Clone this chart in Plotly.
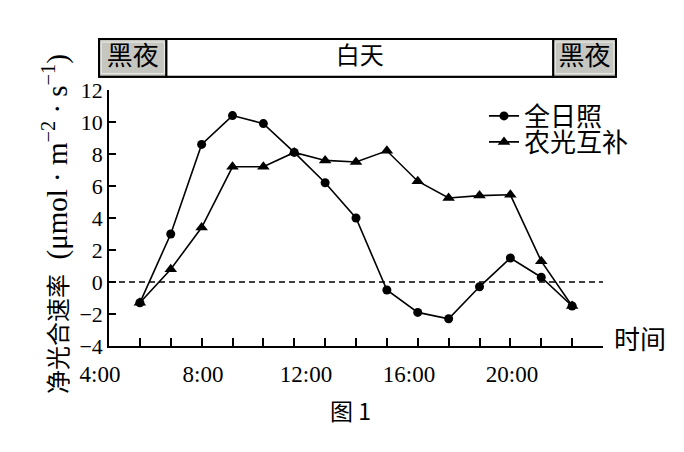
import plotly.graph_objects as go

# hourly readings, 5:00 - 19:00
hours = [5, 6, 7, 8, 9, 10, 11, 12, 13, 14, 15, 16, 17, 18, 19]
full_sun = [-1.3, 3.0, 8.6, 10.4, 9.9, 8.1, 6.2, 4.0, -0.5, -1.9, -2.3, -0.3, 1.5, 0.3, -1.5]
agri_pv = [-1.3, 0.8, 3.4, 7.2, 7.2, 8.1, 7.6, 7.5, 8.2, 6.3, 5.25, 5.4, 5.45, 1.3, -1.5]

zero_x = [4, 20]
zero_y = [0, 0]

time_vals = [4, 8, 12, 16, 20]
time_text = ["4:00", "8:00", "12:00", "16:00", "20:00"]

# light/dark strip above the chart (hours)
period_edges = [3.68, 5.86, 18.39, 20.42]
period_names = ["黑夜", "白天", "黑夜"]

serif = "Liberation Serif, Times New Roman, serif"
cjk = "Noto Sans CJK SC, sans-serif"

# page has an 8px body margin, plot area spans px 95..603 x 90..346 of the picture
L, R, T, B = 95, 603, 90, 346
X0 = 109  # where 4:00 sits
def fx(px):
    return (px - L) / (R - L)
def fy(py):
    return (B - py) / (B - T)
def hour_x(h):
    return fx(X0) + (h - 4) / 16 * (1 - fx(X0))

fig = go.Figure()

fig.add_trace(go.Scatter(
    x=zero_x, y=zero_y, mode="lines", showlegend=False, hoverinfo="skip",
    line=dict(color="black", width=1.4, dash="6px,4px")))

fig.add_trace(go.Scatter(
    x=hours, y=full_sun, mode="lines+markers", name="全日照", legend="legend",
    line=dict(color="black", width=1.6),
    marker=dict(symbol="circle", size=9, color="black")))

fig.add_trace(go.Scatter(
    x=hours, y=agri_pv, mode="lines+markers", name="农光互补", legend="legend2",
    line=dict(color="black", width=1.6),
    marker=dict(symbol="triangle-up", size=11, color="black")))

# invisible trace so the label axis gets drawn
fig.add_trace(go.Scatter(x=time_vals, y=[None] * len(time_vals), xaxis="x2",
                         showlegend=False, hoverinfo="skip"))

# top strip
y0, y1 = fy(76.7), fy(39)
fig.add_shape(type="rect", xref="paper", yref="paper",
              x0=hour_x(period_edges[0]), x1=hour_x(period_edges[-1]), y0=y0, y1=y1,
              line=dict(color="black", width=2), fillcolor="white", layer="above")
for i, name in enumerate(period_names):
    a, b = hour_x(period_edges[i]), hour_x(period_edges[i + 1])
    night = name == "黑夜"
    fig.add_shape(type="rect", xref="paper", yref="paper", x0=a, x1=b, y0=y0, y1=y1,
                  line=dict(color="black", width=2),
                  fillcolor="#c6c6c1" if night else "white", layer="above",
                  label=dict(text=name, textposition="middle center",
                             font=dict(family=cjk, size=26 if night else 24, color="black")))
    if night:
        fig.add_shape(type="rect", xref="paper", yref="paper", x0=a + 0.004, x1=b - 0.004,
                      y0=y0 + 0.012, y1=y1 - 0.012,
                      line=dict(color="#ececea", width=1), fillcolor="rgba(0,0,0,0)", layer="above")

fig.add_annotation(
    x=fx(55), y=fy(224), xref="paper", yref="paper", xanchor="center", yanchor="middle",
    textangle=-90, showarrow=False,
    text="<span style='font-family:Noto Sans CJK SC;font-size:24px'>净光合速率</span>"
         "  (μmol · m<sup>−2</sup> · s<sup>−1</sup>)",
    font=dict(family=serif, size=29, color="black"))

fig.add_annotation(x=fx(612), y=fy(337), xref="paper", yref="paper",
                   xanchor="left", yanchor="middle",
                   text="时间", showarrow=False,
                   font=dict(family=cjk, size=26, color="black"))

fig.add_annotation(x=fx(350), y=fy(410), xref="paper", yref="paper",
                   xanchor="center", yanchor="middle",
                   text="图 1", showarrow=False,
                   font=dict(family=cjk, size=23, color="black"))

legend_style = dict(xanchor="left", yanchor="middle", bgcolor="rgba(0,0,0,0)",
                    itemwidth=30, font=dict(family=cjk, size=26, color="black"))

fig.update_layout(
    width=684, height=452,
    margin=dict(l=L - 8, r=684 - R + 8, t=T - 8, b=452 - B + 8),
    paper_bgcolor="white", plot_bgcolor="rgba(0,0,0,0)",
    showlegend=True,
    legend=dict(x=fx(484), y=fy(116), **legend_style),
    legend2=dict(x=fx(484), y=fy(142), **legend_style),
    xaxis=dict(domain=[fx(X0), 1], range=[4, 20], dtick=1, tick0=4,
               showgrid=False, zeroline=False,
               showline=True, linecolor="black", linewidth=1.6,
               ticks="inside", ticklen=8, tickcolor="black", tickwidth=1.6,
               showticklabels=False),
    xaxis2=dict(domain=[fx(100), fx(512)], anchor="y", side="bottom", range=[4, 20],
                tickvals=time_vals, ticktext=time_text, showgrid=False,
                zeroline=False, showline=False, ticks="", ticklabelstandoff=12,
                tickfont=dict(family=serif, size=23, color="black")),
    yaxis=dict(anchor="x", range=[-4, 12], dtick=2, showgrid=False, zeroline=False,
               showline=True, linecolor="black", linewidth=1.6,
               ticks="inside", ticklen=7, tickcolor="black", tickwidth=1.6,
               tickfont=dict(family=serif, size=22, color="black")),
)

fig.write_html("out.html")
